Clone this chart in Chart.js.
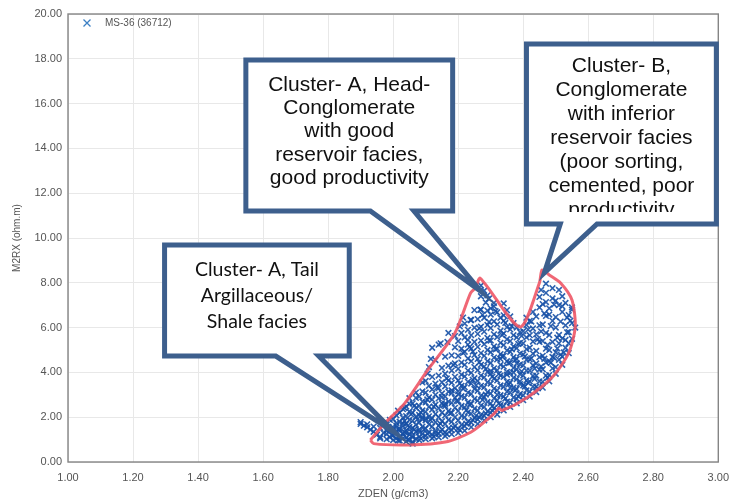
<!DOCTYPE html>
<html>
<head>
<meta charset="utf-8">
<script src="https://cdn.jsdelivr.net/npm/chart.js@4.4.0/dist/chart.umd.min.js"></script>
<style>
  html, body { margin: 0; padding: 0; background: #fff; }
  #wrap { width: 738px; height: 501px; }
</style>
</head>
<body>
<div id="wrap"><canvas id="c" width="738" height="501"></canvas></div>
<script>
// Axis ranges / tick spacing
const zdenRange = [1.0, 3.0];
const m2rxRange = [0, 20];
const zdenStep = 0.2;
const m2rxStep = 2;

// Well MS-36 (36712): ZDEN (g/cm3) vs M2RX (ohm.m) samples
const ms36Points = [
  [1.90,1.78],[1.91,1.62],[1.90,1.70],
  [1.92,1.55],[1.93,1.44],[1.92,1.68],
  [1.94,1.35],[1.95,1.22],[1.94,1.58],
  [1.96,1.12],[1.97,1.30],[1.96,1.52],[1.97,1.74],[1.96,1.05],
  [1.98,1.02],[1.98,1.25],[1.99,1.46],[1.98,1.66],[1.99,1.88],[1.99,1.10],[1.98,1.40],
  [2.00,0.98],[2.00,1.18],[2.01,1.33],[2.00,1.55],[2.01,1.74],[2.00,1.92],[2.01,2.08],[2.01,1.05],[2.00,1.42],[2.01,1.62],
  [2.02,0.96],[2.02,1.12],[2.03,1.28],[2.02,1.48],[2.03,1.60],[2.02,1.80],[2.03,1.98],[2.02,2.20],[2.03,2.36],[2.03,1.05],[2.02,1.38],[2.03,1.72],
  [2.04,0.92],[2.04,1.08],[2.05,1.22],[2.04,1.40],[2.05,1.56],[2.04,1.70],[2.05,1.88],[2.04,2.05],[2.05,2.25],[2.04,2.48],[2.05,2.60],[2.05,1.00],[2.04,1.30],
  [2.06,0.82],[2.06,0.90],[2.07,1.02],[2.06,1.18],[2.07,1.35],[2.06,1.52],[2.07,1.66],[2.06,1.84],[2.07,2.02],[2.06,2.20],[2.07,2.42],[2.06,2.62],[2.07,2.86],[2.06,1.10],
  [2.08,0.98],[2.08,1.12],[2.09,1.26],[2.08,1.44],[2.09,1.58],[2.08,1.76],[2.09,1.92],[2.08,2.10],[2.09,2.30],[2.08,2.50],[2.09,2.70],[2.08,2.92],[2.09,3.15],[2.08,1.34],[2.09,2.00],
  [2.10,1.02],[2.10,1.16],[2.11,1.32],[2.10,1.50],[2.11,1.68],[2.10,1.86],[2.11,2.04],[2.10,2.24],[2.11,2.46],[2.10,2.66],[2.11,2.88],[2.10,3.10],[2.11,3.40],[2.10,3.62],[2.11,4.24],[2.10,1.95],
  [2.12,1.06],[2.12,1.22],[2.13,1.40],[2.12,1.58],[2.13,1.78],[2.12,1.96],[2.13,2.14],[2.12,2.34],[2.13,2.56],[2.12,2.78],[2.13,3.00],[2.12,3.24],[2.13,3.50],[2.12,3.80],[2.12,5.10],[2.13,1.30],
  [2.14,1.10],[2.14,1.26],[2.15,1.44],[2.14,1.62],[2.15,1.82],[2.14,2.00],[2.15,2.20],[2.14,2.40],[2.15,2.62],[2.14,2.84],[2.15,3.06],[2.14,3.30],[2.15,3.56],[2.14,3.86],[2.15,4.20],[2.14,5.24],[2.15,2.90],
  [2.16,1.16],[2.16,1.32],[2.17,1.50],[2.16,1.70],[2.17,1.88],[2.16,2.08],[2.17,2.28],[2.16,2.50],[2.17,2.70],[2.16,2.92],[2.17,3.14],[2.16,3.38],[2.17,3.64],[2.16,3.94],[2.17,4.30],[2.16,4.70],[2.17,5.76],[2.16,2.60],
  [2.18,1.24],[2.18,1.42],[2.19,1.60],[2.18,1.80],[2.19,2.00],[2.18,2.20],[2.19,2.42],[2.18,2.64],[2.19,2.86],[2.18,3.08],[2.19,3.30],[2.18,3.54],[2.19,3.80],[2.18,4.08],[2.19,4.40],[2.18,4.76],[2.19,5.12],[2.18,3.20],
  [2.20,1.30],[2.20,1.48],[2.21,1.66],[2.20,1.86],[2.21,2.06],[2.20,2.28],[2.21,2.50],[2.20,2.72],[2.21,2.94],[2.20,3.16],[2.21,3.40],[2.20,3.64],[2.21,3.90],[2.20,4.16],[2.21,4.44],[2.20,4.74],[2.21,5.06],[2.20,5.40],[2.21,5.76],[2.20,3.02],
  [2.22,1.40],[2.22,1.60],[2.23,1.80],[2.22,2.00],[2.23,2.22],[2.22,2.44],[2.23,2.66],[2.22,2.88],[2.23,3.10],[2.22,3.34],[2.23,3.58],[2.22,3.82],[2.23,4.08],[2.22,4.34],[2.23,4.62],[2.22,4.92],[2.23,5.24],[2.22,5.56],[2.23,5.90],[2.22,6.18],
  [2.24,1.56],[2.24,1.76],[2.25,1.96],[2.24,2.16],[2.25,2.38],[2.24,2.60],[2.25,2.82],[2.24,3.04],[2.25,3.26],[2.24,3.50],[2.25,3.74],[2.24,3.98],[2.25,4.24],[2.24,4.50],[2.25,4.78],[2.24,5.06],[2.25,5.36],[2.24,5.66],[2.25,6.00],[2.24,6.34],[2.25,6.78],
  [2.26,1.70],[2.26,1.90],[2.27,2.10],[2.26,2.30],[2.27,2.52],[2.26,2.74],[2.27,2.96],[2.26,3.18],[2.27,3.40],[2.26,3.62],[2.27,3.86],[2.26,4.10],[2.27,4.34],[2.26,4.60],[2.27,4.86],[2.26,5.14],[2.27,5.42],[2.26,5.72],[2.27,6.04],[2.26,6.38],[2.27,6.80],[2.27,7.40],[2.27,7.88],
  [2.28,1.86],[2.28,2.06],[2.29,2.26],[2.28,2.46],[2.29,2.68],[2.28,2.90],[2.29,3.12],[2.28,3.34],[2.29,3.56],[2.28,3.78],[2.29,4.02],[2.28,4.26],[2.29,4.50],[2.28,4.74],[2.29,5.00],[2.28,5.26],[2.29,5.54],[2.28,5.82],[2.29,6.12],[2.28,6.44],[2.29,6.76],[2.29,7.44],
  [2.30,2.00],[2.30,2.20],[2.31,2.40],[2.30,2.62],[2.31,2.84],[2.30,3.06],[2.31,3.28],[2.30,3.50],[2.31,3.72],[2.30,3.94],[2.31,4.18],[2.30,4.42],[2.31,4.66],[2.30,4.90],[2.31,5.16],[2.30,5.42],[2.31,5.70],[2.30,5.98],[2.31,6.28],[2.30,6.58],[2.31,7.10],[2.30,4.06],
  [2.32,2.12],[2.32,2.32],[2.33,2.54],[2.32,2.76],[2.33,2.98],[2.32,3.20],[2.33,3.42],[2.32,3.64],[2.33,3.86],[2.32,4.10],[2.33,4.34],[2.32,4.58],[2.33,4.82],[2.32,5.06],[2.33,5.32],[2.32,5.58],[2.33,5.86],[2.32,6.14],[2.33,6.44],[2.34,7.08],[2.32,3.00],[2.33,4.60],
  [2.34,2.30],[2.34,2.50],[2.35,2.70],[2.34,2.92],[2.35,3.14],[2.34,3.36],[2.35,3.58],[2.34,3.80],[2.35,4.02],[2.34,4.26],[2.35,4.50],[2.34,4.74],[2.35,4.98],[2.34,5.22],[2.35,5.48],[2.34,5.74],[2.35,6.02],[2.34,6.30],[2.35,6.78],[2.35,3.90],
  [2.36,2.46],[2.36,2.66],[2.37,2.88],[2.36,3.10],[2.37,3.32],[2.36,3.54],[2.37,3.76],[2.36,3.98],[2.37,4.20],[2.36,4.44],[2.37,4.68],[2.36,4.92],[2.37,5.16],[2.36,5.40],[2.37,5.66],[2.36,5.92],[2.37,6.20],[2.36,6.50],[2.37,4.00],[2.36,3.30],
  [2.38,2.62],[2.38,2.82],[2.39,3.04],[2.38,3.26],[2.39,3.48],[2.38,3.70],[2.39,3.92],[2.38,4.14],[2.39,4.36],[2.38,4.60],[2.39,4.84],[2.38,5.08],[2.39,5.32],[2.38,5.56],[2.39,5.80],[2.38,6.00],[2.39,3.60],[2.38,4.40],
  [2.40,2.76],[2.40,2.98],[2.41,3.20],[2.40,3.42],[2.41,3.64],[2.40,3.86],[2.41,4.08],[2.40,4.32],[2.41,4.56],[2.40,4.80],[2.41,5.04],[2.40,5.30],[2.41,5.56],[2.40,5.84],[2.41,6.12],[2.41,6.44],
  [2.42,2.92],[2.42,3.14],[2.43,3.36],[2.42,3.60],[2.43,3.84],[2.42,4.08],[2.43,4.32],[2.42,4.58],[2.43,4.84],[2.42,5.10],[2.43,5.38],[2.42,5.66],[2.43,5.96],[2.42,6.30],[2.43,6.70],
  [2.44,3.12],[2.44,3.36],[2.45,3.60],[2.44,3.86],[2.45,4.12],[2.44,4.40],[2.45,4.68],[2.44,4.96],[2.45,5.36],[2.44,5.70],[2.45,6.10],[2.44,6.50],[2.45,6.90],[2.45,7.37],
  [2.46,3.32],[2.46,3.58],[2.47,3.86],[2.46,4.14],[2.47,4.44],[2.46,4.74],[2.47,5.06],[2.46,5.40],[2.47,5.76],[2.46,6.14],[2.47,6.52],[2.47,7.14],[2.47,7.96],
  [2.48,3.60],[2.48,3.88],[2.49,4.18],[2.48,4.50],[2.49,4.69],[2.48,5.00],[2.49,5.36],[2.48,5.67],[2.49,6.30],[2.48,6.86],[2.49,7.76],
  [2.50,3.94],[2.50,4.24],[2.51,4.56],[2.50,4.90],[2.51,5.30],[2.51,5.67],[2.50,6.47],[2.51,7.00],[2.51,7.68],[2.50,6.00],
  [2.52,4.34],[2.52,4.70],[2.53,5.10],[2.52,5.52],[2.53,6.10],[2.52,6.70],[2.53,7.10],[2.52,7.40],
  [2.54,4.86],[2.54,5.30],[2.54,5.80],[2.54,6.56],[2.55,6.20],[2.55,6.90],
  [2.55,5.50],[2.56,6.00],[2.55,6.80],
  [1.995,1.21],[2.015,1.47],[2.025,1.15],[2.035,1.83],[2.045,1.62],[2.055,1.35],[2.065,2.51],[2.075,1.91],[2.085,2.21],[2.095,1.45],
  [2.105,2.79],[2.115,1.87],[2.125,2.47],[2.135,3.32],[2.145,1.71],[2.155,2.53],[2.165,3.73],[2.175,2.17],[2.185,4.33],[2.195,2.73],
  [2.205,3.51],[2.215,4.87],[2.225,2.31],[2.235,5.13],[2.245,3.67],[2.255,2.07],[2.265,4.45],[2.275,6.57],[2.285,3.01],[2.295,5.43],
  [2.305,2.49],[2.315,6.73],[2.325,3.93],[2.335,5.67],[2.345,2.83],[2.355,4.41],[2.365,6.07],[2.375,3.19],[2.385,5.27],[2.395,4.05],
  [2.405,3.37],[2.415,5.91],[2.425,4.63],[2.435,3.71],[2.445,5.49],[2.455,4.27],[2.465,6.63],[2.475,5.23],[2.485,4.43],[2.495,7.03],
  [2.505,5.07],[2.515,6.27],[2.525,4.89],[2.535,5.79],[2.545,6.31],
  [2.146,5.30],[2.167,5.36],[2.23,5.45],[2.238,6.34],[2.268,6.80],[2.19,5.62],[2.205,6.05],[2.215,6.45],[2.116,4.60],[2.13,4.55],
  [2.106,3.95],[2.09,3.55],[2.07,3.10],[2.05,2.85],
  [2.215,3.27],[2.235,2.55],[2.245,4.93],[2.255,3.43],[2.265,5.97],[2.275,2.77],[2.285,4.15],[2.295,6.25],[2.305,3.81],[2.315,5.03],
  [2.325,2.61],[2.335,4.71],[2.345,6.21],[2.355,3.47],[2.365,5.03],[2.375,4.55],[2.385,2.93],[2.395,5.63],[2.405,4.71],[2.415,3.53],
  [2.425,6.27],[2.435,4.17],[2.445,3.29],[2.455,5.83],[2.465,4.61],[2.475,3.77],[2.485,6.07],[2.495,4.65],[2.505,5.55],[2.515,4.79],
  [2.455,7.68],[2.47,7.55],[2.49,7.30],[2.50,7.20],[2.52,6.95],[2.535,6.45],[2.46,7.05],[2.48,6.58],[2.53,5.45],
  [2.285,7.12],[2.30,6.86],[2.32,6.68],[2.34,6.55],[2.295,7.30],[2.31,6.95],[2.28,7.65],
  [1.985,1.57],[2.005,1.27],[2.015,0.97],[2.035,1.33],[2.045,0.99],[2.065,1.45],[2.085,1.05],[2.105,1.27],[2.125,1.13],[2.145,1.37],
  [2.165,1.25],[2.185,1.53],[2.205,1.43],[2.225,1.71],[2.245,1.87],[2.265,1.99],[2.285,2.17],[2.305,2.29],[2.015,2.29],[2.035,2.41],[2.055,2.13]
];

// Hand-drawn cluster outline (head, tail and cluster-B lobe)
const outlineZden = [1.93,1.94,2.05,2.16,2.24,2.31,2.325,2.335,2.41,2.49,2.54,2.56,2.55,2.515,2.48,2.458,2.45,2.39,2.268,2.253,2.238,2.19,2.106,2.036,1.975,1.93];
const outlineM2rx = [0.98,0.82,0.76,0.89,1.34,2.15,2.40,2.30,2.86,3.80,4.87,6.03,7.23,7.99,8.35,8.57,8.00,6.03,8.20,7.77,7.54,5.76,4.10,2.63,1.74,0.98];

const seriesLabel = 'MS-36 (36712)';

// Speech-bubble annotations, anchored in data units
const callouts = [
  {
    lines: ['Cluster- A, Head-', 'Conglomerate', 'with good', 'reservoir facies,', 'good productivity'],
    box: [1.547, 17.95, 2.183, 11.21], tailBase: [1.930, 2.064], tip: [2.269, 7.63],
    font: '21px "Liberation Sans", Arial, sans-serif', firstLine: 25, lineGap: 23.3
  },
  {
    lines: ['Cluster- B,', 'Conglomerate', 'with inferior', 'reservoir facies', '(poor sorting,', 'cemented, poor', 'productivity'],
    box: [2.410, 18.66, 2.994, 10.63], tailBase: [2.514, 2.627], tip: [2.465, 8.44],
    font: '21px "Liberation Sans", Arial, sans-serif', firstLine: 22, lineGap: 24, clipBottom: 12
  },
  {
    lines: ['Cluster- A, Tail', 'Argillaceous/', 'Shale facies'],
    box: [1.297, 9.69, 1.865, 4.73], tailBase: [1.639, 1.771], tip: [2.003, 1.34],
    font: '19.5px Lato, "Open Sans", sans-serif', firstLine: 25, lineGap: 26
  }
];

const frameAndNotes = {
  id: 'frameAndNotes',
  beforeDatasetsDraw(chart) {
    const { ctx, chartArea: a } = chart;
    ctx.save();
    ctx.strokeStyle = '#858585';
    ctx.lineWidth = 1.4;
    ctx.strokeRect(a.left, a.top, a.right - a.left, a.bottom - a.top);
    ctx.restore();
  },
  afterDatasetsDraw(chart) {
    const { ctx, chartArea: a, scales: { x, y } } = chart;
    // legend entry inside the plot
    ctx.save();
    const lx = a.left + 19, ly = a.top + 9;
    ctx.strokeStyle = '#3b7fc4';
    ctx.lineWidth = 1.3;
    ctx.beginPath();
    ctx.moveTo(lx - 3.5, ly - 3.5); ctx.lineTo(lx + 3.5, ly + 3.5);
    ctx.moveTo(lx + 3.5, ly - 3.5); ctx.lineTo(lx - 3.5, ly + 3.5);
    ctx.stroke();
    ctx.fillStyle = '#555';
    ctx.font = '10px "Liberation Sans", Arial, sans-serif';
    ctx.textBaseline = 'middle';
    ctx.fillText(seriesLabel, lx + 18, ly + 0.5);
    ctx.restore();

    callouts.forEach(c => {
      const L = x.getPixelForValue(c.box[0]), T = y.getPixelForValue(c.box[1]);
      const R = x.getPixelForValue(c.box[2]), B = y.getPixelForValue(c.box[3]);
      const ta = x.getPixelForValue(c.tailBase[0]), tb = x.getPixelForValue(c.tailBase[1]);
      const px = x.getPixelForValue(c.tip[0]), py = y.getPixelForValue(c.tip[1]);
      ctx.save();
      ctx.beginPath();
      ctx.moveTo(L, T); ctx.lineTo(R, T); ctx.lineTo(R, B);
      ctx.lineTo(tb, B); ctx.lineTo(px, py); ctx.lineTo(ta, B);
      ctx.lineTo(L, B); ctx.closePath();
      ctx.fillStyle = '#ffffff';
      ctx.fill();
      ctx.lineWidth = 5;
      ctx.lineJoin = 'miter';
      ctx.strokeStyle = '#3d5f8d';
      ctx.stroke();
      ctx.beginPath();
      const clipB = c.clipBottom ? B - c.clipBottom : B - 3;
      ctx.rect(L + 3, T + 3, R - L - 6, clipB - T - 3);
      ctx.clip();
      ctx.fillStyle = '#111';
      ctx.font = c.font;
      ctx.textAlign = 'center';
      ctx.textBaseline = 'middle';
      const cx = (L + R) / 2;
      c.lines.forEach((s, i) => ctx.fillText(s, cx, T + c.firstLine + i * c.lineGap));
      ctx.restore();
    });
  }
};

const tickFont = { family: '"Liberation Sans", Arial, sans-serif', size: 11 };

new Chart(document.getElementById('c'), {
  data: {
    datasets: [
      {
        type: 'line',
        label: 'outline',
        data: outlineZden.map((v, i) => ({ x: v, y: outlineM2rx[i] })),
        borderColor: 'rgba(238,86,102,0.9)',
        borderWidth: 3,
        pointRadius: 0,
        fill: false,
        tension: 0.25,
        borderJoinStyle: 'round'
      },
      {
        type: 'scatter',
        label: seriesLabel,
        data: ms36Points.map(p => ({ x: p[0], y: p[1] })),
        pointStyle: 'crossRot',
        pointRadius: 4,
        borderWidth: 1.6,
        borderColor: 'rgba(22,80,166,0.9)',
        backgroundColor: 'rgba(22,80,166,0.9)'
      }
    ]
  },
  options: {
    responsive: false,
    animation: false,
    devicePixelRatio: 1,
    layout: { padding: { top: 14, right: 16, left: 0, bottom: 0 } },
    plugins: { legend: { display: false }, tooltip: { enabled: false } },
    scales: {
      x: {
        type: 'linear',
        min: zdenRange[0], max: zdenRange[1],
        ticks: { stepSize: zdenStep, callback: v => v.toFixed(2), color: '#555', font: tickFont, padding: 9, maxRotation: 0 },
        grid: { color: '#e8e8e8', drawTicks: false },
        border: { display: false },
        title: { display: true, text: 'ZDEN (g/cm3)', color: '#555', font: { family: tickFont.family, size: 11 }, padding: 0 },
        afterFit(s) { s.height = 39; }
      },
      y: {
        type: 'linear',
        min: m2rxRange[0], max: m2rxRange[1],
        ticks: { stepSize: m2rxStep, callback: v => v.toFixed(2), color: '#555', font: tickFont, padding: 6 },
        grid: { color: '#e8e8e8', drawTicks: false },
        border: { display: false },
        title: { display: true, text: 'M2RX (ohm.m)', color: '#555', font: { family: tickFont.family, size: 10 }, padding: { top: 11, bottom: 0 } },
        afterFit(s) { s.width = 68; }
      }
    }
  },
  plugins: [frameAndNotes]
});
</script>
</body>
</html>
